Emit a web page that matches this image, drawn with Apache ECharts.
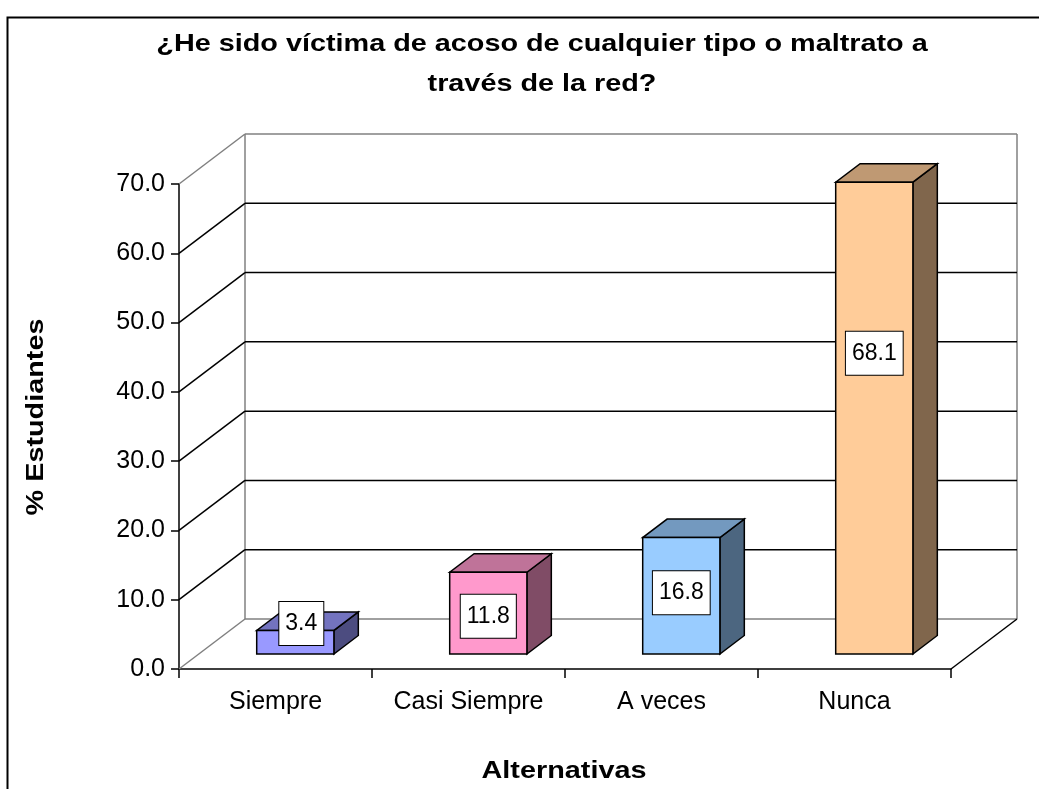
<!DOCTYPE html>
<html>
<head>
<meta charset="utf-8">
<script src="https://cdn.jsdelivr.net/npm/echarts@6/dist/echarts.min.js"></script>
<style>
  html, body { margin: 0; padding: 0; background: #fff; }
  #chart { width: 1039px; height: 789px; }
</style>
</head>
<body>
<div id="chart"></div>
<script>
// datos
var categorias = ['Siempre', 'Casi Siempre', 'A veces', 'Nunca'];
var porcentajes = [3.4, 11.8, 16.8, 68.1];
var ticksY = [0, 10, 20, 30, 40, 50, 60, 70];
var coloresFrente = ['#9999FF', '#FF99CC', '#99CCFF', '#FFCC99'];
var coloresTapa = ['#7373BF', '#BF7399', '#7399BF', '#BF9973'];
var coloresLado = ['#4C4C80', '#804C66', '#4C6680', '#80664C'];

var FONT = '"Liberation Sans", Arial, sans-serif';
// profundidad 3D
var DX = 66, DY = -50;
var F0 = 0.3, F1 = 0.67;   // frente y fondo de la barra
var ANCHO = 0.4;
var ESTIRA = 1.2;          // el texto original sale algo ensanchado

var myChart = echarts.init(document.getElementById('chart'));

function linea(x1, y1, x2, y2, color) {
  return {
    type: 'line',
    shape: { x1: x1, y1: y1, x2: x2, y2: y2 },
    style: { stroke: color, lineWidth: 1.5 }
  };
}

// paredes del fondo y lineas de division
function renderParedes(params, api) {
  var cs = params.coordSys;
  var x0 = cs.x, x1 = cs.x + cs.width;
  var v = api.value(1);
  var y = api.coord([0, v])[1];
  var extremo = (v === ticksY[0] || v === ticksY[ticksY.length - 1]);
  var col = extremo ? '#808080' : '#000';
  var hijos = [
    linea(x0, y, x0 + DX, y + DY, col),
    linea(x0 + DX, y + DY, x1 + DX, y + DY, col)
  ];
  if (params.dataIndex === 0) {
    var yTop = api.coord([0, ticksY[ticksY.length - 1]])[1];
    hijos.push(linea(x0 + DX, y + DY, x0 + DX, yTop + DY, '#808080'));
    hijos.push(linea(x1 + DX, y + DY, x1 + DX, yTop + DY, '#808080'));
    hijos.push(linea(x1, y, x1 + DX, y + DY, '#000'));
  }
  return { type: 'group', children: hijos };
}

function renderBarra(params, api) {
  var i = api.value(0);
  var v = api.value(1);
  var base = api.coord([i, 0]);
  var banda = api.size([1, 0])[0];
  var w = banda * ANCHO;
  var fx = base[0] - w / 2 + DX * F0;
  var fy0 = base[1] + DY * F0;
  var top = api.coord([i, v])[1] + DY * F0;
  var ddx = DX * (F1 - F0), ddy = DY * (F1 - F0);
  var borde = { stroke: '#000', lineWidth: 1.5, lineJoin: 'miter' };
  // posicion de la etiqueta (Excel la sube un poco)
  var lv = Math.max(v * 0.674 - 2.5, 4.4);
  var ly = api.coord([i, lv])[1] + DY * F0;
  var lx = fx + w / 2 + (v < 5 ? 6 : 0);
  return {
    type: 'group',
    children: [
      {
        type: 'polygon',
        shape: { points: [[fx + w, top], [fx + w + ddx, top + ddy], [fx + w + ddx, fy0 + ddy], [fx + w, fy0]] },
        style: Object.assign({ fill: coloresLado[i] }, borde)
      },
      {
        type: 'polygon',
        shape: { points: [[fx, top], [fx + w, top], [fx + w + ddx, top + ddy], [fx + ddx, top + ddy]] },
        style: Object.assign({ fill: coloresTapa[i] }, borde)
      },
      {
        type: 'rect',
        shape: { x: fx, y: top, width: w, height: fy0 - top },
        style: Object.assign({ fill: coloresFrente[i] }, borde)
      },
      {
        type: 'text',
        style: {
          text: v.toFixed(1),
          x: lx,
          y: ly,
          align: 'center',
          verticalAlign: 'middle',
          font: '23px ' + FONT,
          fill: '#000',
          backgroundColor: '#fff',
          borderColor: '#000',
          borderWidth: 1,
          padding: [10, 6]
        }
      }
    ]
  };
}

var option = {
  backgroundColor: '#fff',
  animation: false,
  graphic: [
    {
      type: 'rect',
      left: 5, top: 15,
      shape: { width: 1100, height: 900 },
      style: { fill: 'none', stroke: '#000', lineWidth: 2 },
      silent: true
    },
    {
      type: 'text',
      x: 542, y: 24,
      scaleX: ESTIRA,
      style: {
        text: '¿He sido víctima de acoso de cualquier tipo o maltrato a\ntravés de la red?',
        align: 'center',
        verticalAlign: 'top',
        lineHeight: 40,
        font: 'bold 24px ' + FONT,
        fill: '#000'
      }
    },
    {
      type: 'text',
      x: 36, y: 417,
      rotation: Math.PI / 2,
      scaleX: ESTIRA,
      style: {
        text: '% Estudiantes',
        align: 'center',
        verticalAlign: 'middle',
        font: 'bold 24px ' + FONT,
        fill: '#000'
      }
    },
    {
      type: 'text',
      x: 564, y: 771,
      scaleX: ESTIRA,
      style: {
        text: 'Alternativas',
        align: 'center',
        verticalAlign: 'middle',
        font: 'bold 24px ' + FONT,
        fill: '#000'
      }
    }
  ],
  grid: { left: 179, right: 88, top: 184, bottom: 120 },
  xAxis: {
    type: 'category',
    data: categorias,
    axisLine: { lineStyle: { color: '#000', width: 1.5 } },
    axisTick: { show: true, interval: 0, length: 9, lineStyle: { color: '#000', width: 1.5 } },
    axisLabel: { interval: 0, fontFamily: FONT, fontSize: 25, color: '#000', margin: 21 },
    splitLine: { show: false }
  },
  yAxis: {
    type: 'value',
    min: 0,
    max: 70,
    interval: 10,
    axisLine: { show: true, lineStyle: { color: '#000', width: 1.5 } },
    axisTick: { show: true, length: 8, lineStyle: { color: '#000', width: 1.5 } },
    axisLabel: {
      fontFamily: FONT, fontSize: 25, color: '#000', margin: 14,
      formatter: function (v) { return v.toFixed(1); }
    },
    splitLine: { show: false }
  },
  series: [
    {
      type: 'custom',
      name: 'paredes',
      renderItem: renderParedes,
      data: ticksY.map(function (t) { return [0, t]; }),
      encode: { x: 0, y: 1 },
      silent: true,
      z: 1
    },
    {
      type: 'custom',
      name: '% Estudiantes',
      renderItem: renderBarra,
      data: porcentajes.map(function (p, i) { return [i, p]; }),
      encode: { x: 0, y: 1 },
      z: 2
    }
  ]
};

myChart.setOption(option);
</script>
</body>
</html>
